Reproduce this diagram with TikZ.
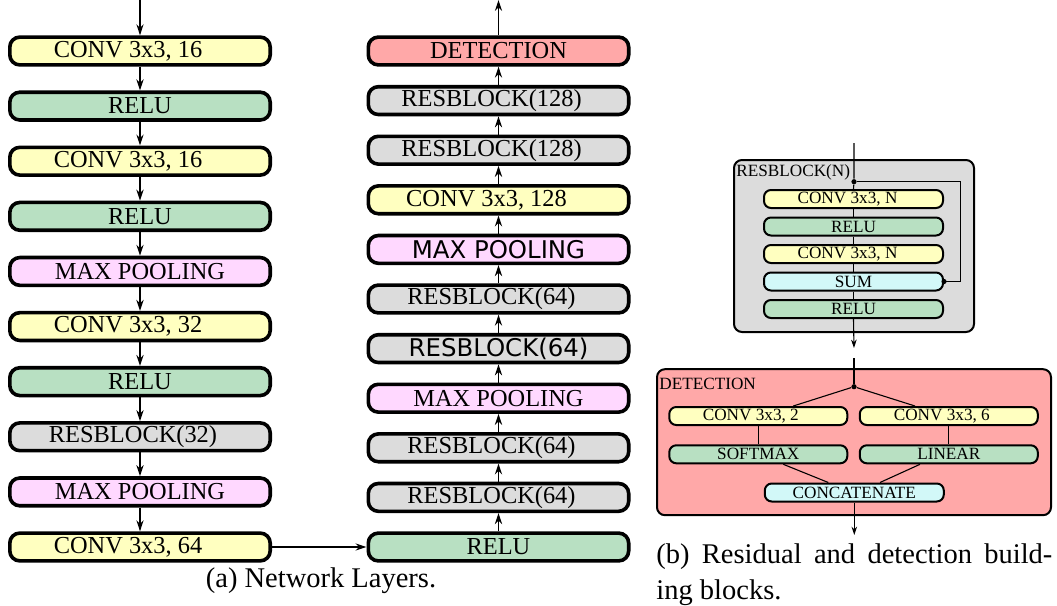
\documentclass[tikz,border=0pt]{standalone}
\usepackage{fontspec}
\setmainfont{Liberation Serif}
\newfontfamily\sansface{DejaVu Sans}
\usetikzlibrary{arrows.meta,calc}

\definecolor{convc}{HTML}{FFFFC0}
\definecolor{reluc}{HTML}{B8E0C2}
\definecolor{poolc}{HTML}{FFD8FF}
\definecolor{resc}{HTML}{DCDCDC}
\definecolor{detc}{HTML}{FFA8A8}
\definecolor{sumc}{HTML}{D2F8F8}

% trailing space that moves a label left inside its box
\newcommand{\lpad}[2]{#2\hspace*{#1pt}}

\tikzset{
  layer/.style={draw, line width=1.8pt, rounded corners=5pt,
    minimum width=130.2pt, minimum height=13.9pt, inner sep=0pt,
    font=\fontsize{12.2}{13}\selectfont},
  sublayer/.style={draw, line width=1pt, rounded corners=3.5pt,
    minimum width=89.5pt, minimum height=9pt, inner sep=0pt,
    font=\fontsize{8.6}{9}\selectfont},
  container/.style={draw, line width=1pt, rounded corners=4pt, inner sep=0pt},
  boxlabel/.style={anchor=base west, inner sep=0pt, font=\fontsize{8.6}{9}\selectfont},
  conv/.style={fill=convc},
  relu/.style={fill=reluc},
  pool/.style={fill=poolc},
  res/.style={fill=resc},
  det/.style={fill=detc},
  sumb/.style={fill=sumc},
  arr/.style={line width=0.85pt, -{Stealth[length=5.5pt,width=3.6pt]}},
  link/.style={line width=0.55pt},
  linkarr/.style={line width=0.55pt, -{Stealth[length=4.2pt,width=2.8pt]}},
  junction/.style={circle, fill, inner sep=0pt, minimum size=2.6pt},
  caption/.style={inner sep=0pt, font=\fontsize{14.25}{16}\selectfont},
}

\begin{document}
\begin{tikzpicture}[x=0.5pt, y=-0.5pt]
\useasboundingbox (0,0) rectangle (1057,606);

% ---- left column: forward path, top to bottom ----
\foreach \lab/\sty/\pad [count=\i from 0] in {
    {CONV 3x3, 16}/conv/12, RELU/relu/0, {CONV 3x3, 16}/conv/12, RELU/relu/0,
    {MAX POOLING}/pool/0, {CONV 3x3, 32}/conv/12, RELU/relu/0,
    RESBLOCK(32)/res/7, {MAX POOLING}/pool/0, {CONV 3x3, 64}/conv/12}
  \node[layer, \sty] (L\i) at (140, 51+55.11*\i) {\lpad{\pad}{\lab}};

% ---- right column: forward path, bottom to top ----
\foreach \lab/\sty/\pad [count=\i from 0] in {
    DETECTION/det/0, RESBLOCK(128)/res/7, RESBLOCK(128)/res/7,
    {CONV 3x3, 128}/conv/12, {\sansface MAX POOLING}/pool/0,
    RESBLOCK(64)/res/7, {\sansface RESBLOCK(64)}/res/0,
    {MAX POOLING}/pool/0, RESBLOCK(64)/res/7, RESBLOCK(64)/res/7, RELU/relu/0}
  \node[layer, \sty] (R\i) at (498.5, 51+49.6*\i) {\lpad{\pad}{\lab}};

\coordinate (ltop) at (140,0);
\coordinate (rtop) at (498.5,0);

\draw[arr] (ltop) -- (L0.north);
\foreach \j [count=\i from 0] in {1,...,9}
  \draw[arr] (L\i.south) -- (L\j.north);

\draw[arr] (L9.east) -- (R10.west);

\foreach \i [count=\j from 1] in {0,...,9}
  \draw[arr] (R\j.north) -- (R\i.south);
\draw[arr] (R0.north) -- (rtop);

% ---- residual block ----
\node[container, res, minimum width=120pt, minimum height=86pt] (rbox) at (854,246) {};
\node[boxlabel] (rlab) at (736,176) {RESBLOCK(N)};

\foreach \lab/\sty/\pad [count=\i from 0] in {
    {CONV 3x3, N}/conv/6, RELU/relu/0, {CONV 3x3, N}/conv/6, SUM/sumb/0, RELU/relu/0}
  \node[sublayer, \sty] (S\i) at (853.5, 199+27.5*\i) {\lpad{\pad}{\lab}};

\coordinate (rin) at (854,143);
\node[junction] (split) at (854,181.7) {};
\coordinate (skipa) at (960.7,181.7);
\coordinate (skipb) at (960.7,281.5);
\coordinate (rout) at (854,348);

\draw[link] (rin) -- (split) -- (S0.north);
\foreach \j [count=\i from 0] in {1,...,4}
  \draw[link] (S\i.south) -- (S\j.north);
\draw[link] (split) -- (skipa) -- (skipb) -- (S3.east);
\node[junction] at (S3.east) {};
\draw[linkarr] (S4.south) -- (rout);

% ---- detection block ----
\node[container, det, minimum width=197pt, minimum height=73pt] (dbox) at (854,442.2) {};
\node[boxlabel] (dlab) at (659,389) {DETECTION};

\node[sublayer, conv, minimum width=89pt] (D1) at (758.3,416) {\lpad{7.5}{CONV 3x3, 2}};
\node[sublayer, conv, minimum width=89pt] (D2) at (948.8,416) {\lpad{7}{CONV 3x3, 6}};
\node[sublayer, relu, minimum width=89pt] (D3) at (758.3,454.3) {SOFTMAX};
\node[sublayer, relu, minimum width=89pt] (D4) at (948.8,454.3) {LINEAR};
\node[sublayer, sumb] (D5) at (854.3,492.5) {CONCATENATE};

\coordinate (din) at (854,358);
\node[junction] (fork) at (854,386.7) {};
\coordinate (dout) at (854.3,535);

\draw[link] (din) -- (fork);
\draw[link] (fork) -- ($(D1.north)+(35,0)$);
\draw[link] (fork) -- ($(D2.north)+(-33.8,0)$);
\draw[link] (D1) -- (D3);
\draw[link] (D2) -- (D4);
\draw[link] ($(D3.south)+(25,0)$) -- ($(D5.north)+(-26,0)$);
\draw[link] ($(D4.south)+(-28.8,0)$) -- ($(D5.north)+(25.7,0)$);
\draw[linkarr] (D5.south) -- (dout);

% ---- captions ----
\node[caption, anchor=base] (capa) at (321,587) {(a) Network Layers.};
\node[caption, anchor=base west] (capb1) at (656,563)
  {\makebox[198pt][s]{(b) Residual and detection build-}};
\node[caption, anchor=base west] (capb2) at (656,599) {ing blocks.};
\end{tikzpicture}
\end{document}
